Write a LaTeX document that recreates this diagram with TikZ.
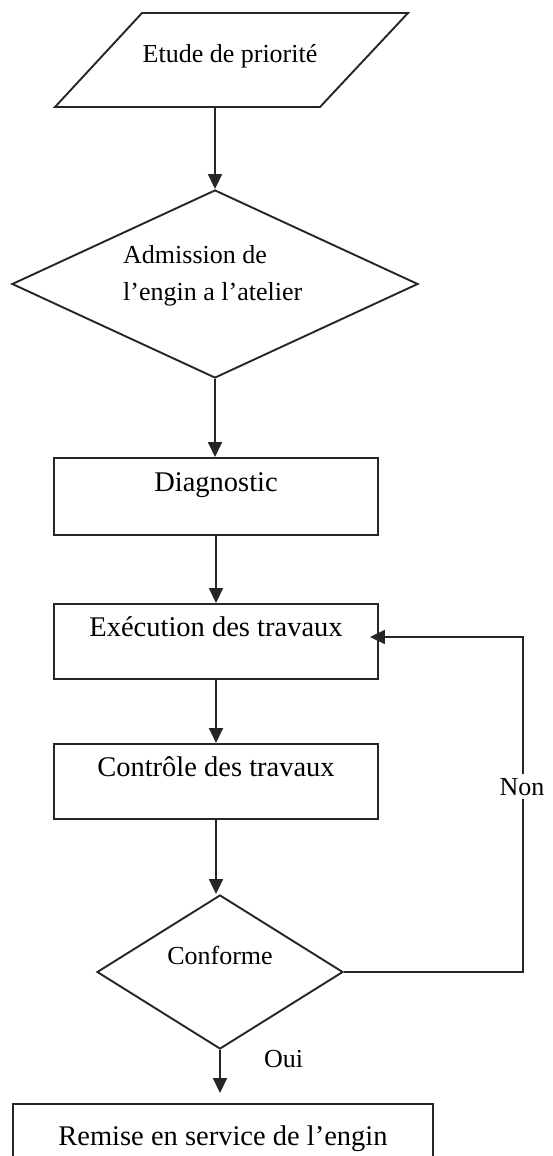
\documentclass[tikz,border=0pt]{standalone}
\usepackage{fontspec}
\setmainfont{Liberation Serif}
\usetikzlibrary{arrows.meta,shapes.geometric}
\tikzset{
  ln/.style={line width=1.9pt, draw=black!85},
  arr/.style={ln, -{Triangle[length=15pt,width=14pt]}},
  boxnode/.style={ln, rectangle, inner sep=0pt, anchor=north, align=center,
    font=\fontsize{28.5}{34}\selectfont},
  dia/.style={ln, diamond, inner sep=0pt},
  lbl/.style={inner sep=0pt, font=\fontsize{26}{37}\selectfont}
}
\begin{document}
\begin{tikzpicture}[x=1pt,y=-1pt]
\useasboundingbox (0,0) rectangle (552,1156);
\clip (0,0) rectangle (552,1156);
% parallelogram
\coordinate (p1) at (142,13);
\coordinate (p2) at (408,13);
\coordinate (p3) at (320,107);
\coordinate (p4) at (55,107);
\coordinate (etb) at (215,107);
\draw[ln, line join=miter] (p1) -- (p2) -- (p3) -- (p4) -- cycle;
\node[lbl, anchor=base] (etude) at (230,63) {Etude de priorité};
% diamond 1
\node[dia, minimum width=406pt, minimum height=188pt] (adm) at (215,284) {};
\node[lbl, anchor=west, align=left] (admt) at (123,276) {Admission de\\l’engin a l’atelier};
% boxes
\node[boxnode, minimum width=324pt, text height=34pt, text depth=43pt] (diag) at (216,457) {Diagnostic};
\node[boxnode, minimum width=324pt, text height=33pt, text depth=42pt] (exec) at (216,603) {Exécution des travaux};
\node[boxnode, minimum width=324pt, text height=33pt, text depth=42pt] (ctrl) at (216,743) {Contrôle des travaux};
% diamond 2
\node[dia, minimum width=246pt, minimum height=154pt] (conf) at (220,972) {};
\node[lbl, anchor=base] (conft) at (220,964) {Conforme};
% last box
\node[boxnode, minimum width=420pt, text height=42pt, text depth=60pt] (rem) at (223,1103) {Remise en service de l’engin};
% connectors
\draw[arr] (etb) -- (adm.north);
\draw[arr] (adm.south) -- (adm.south |- diag.north);
\draw[arr] (diag.south) -- (exec.north);
\draw[arr] (exec.south) -- (ctrl.north);
\draw[arr] (ctrl.south) -- (ctrl.south |- conf.north);
\draw[arr, shorten >=10pt] (conf.south) -- (conf.south |- rem.north);
\coordinate (loopc) at (523,637);
\draw[arr, shorten >=-9pt] (conf.east) -| (loopc) -- (exec.east |- loopc);
\node[lbl, fill=white, inner ysep=4pt, anchor=base] (non) at (522,795) {Non};
\node[lbl, anchor=base west] (oui) at (264,1067) {Oui};
\end{tikzpicture}
\end{document}
